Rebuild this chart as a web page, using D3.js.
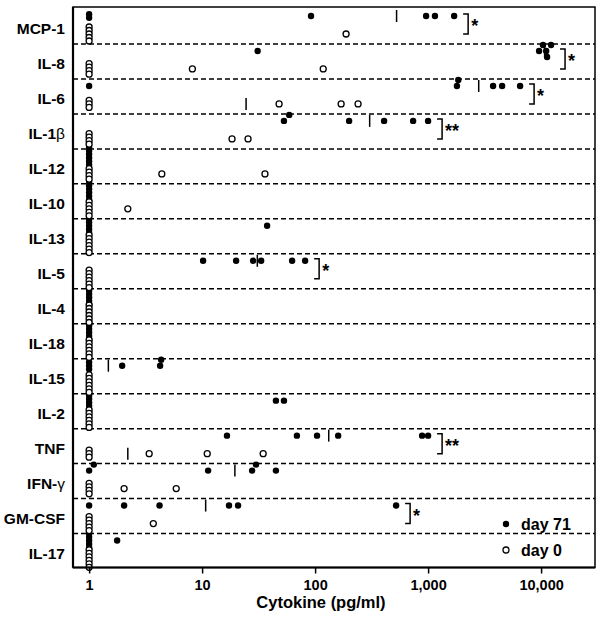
<!DOCTYPE html>
<html>
<head>
<meta charset="utf-8">
<script src="https://cdn.jsdelivr.net/npm/d3@7"></script>
<style>
  body { margin: 0; background: #fff; }
  svg { display: block; font-family: Arial, "Liberation Sans", sans-serif; }
</style>
</head>
<body>
<svg id="chart" width="604" height="619"></svg>
<script>
// values, pg/ml (1 = below detection limit)
const cytokines = ["MCP-1", "IL-8", "IL-6", "IL-1β", "IL-12", "IL-10", "IL-13", "IL-5",
  "IL-4", "IL-18", "IL-15", "IL-2", "TNF", "IFN-γ", "GM-CSF", "IL-17"];

const day71 = [
  [1, 1, 92, 960, 1150, 1700],
  [31, 9600, 10400, 11100, 11300, 12250],
  [1, 1800, 1850, 3760, 4520, 6520],
  [53, 59, 200, 408, 737, 1000],
  [1, 1, 1, 1, 1, 1],
  [1, 1, 1, 1, 1, 1],
  [1, 1, 1, 1, 1, 37.6],
  [10.2, 20, 28.3, 33.3, 62.6, 81.6],
  [1, 1, 1, 1, 1, 1],
  [1, 1, 1, 1, 1, 1],
  [1, 1, 1, 1.96, 4.25, 4.34],
  [1, 1, 1, 1, 45, 53],
  [16.6, 69, 104, 160, 885, 1000],
  [1, 1.1, 11.3, 27.7, 30, 45],
  [1, 2.04, 4.2, 17.3, 20.8, 521],
  [1, 1, 1, 1, 1, 1.77]
];

const day0 = [
  [1, 1, 1, 1, 1, 188],
  [1, 1, 1, 1, 8.2, 118],
  [1, 1, 1, 48, 170, 240],
  [1, 1, 1, 1, 18.4, 25.5],
  [1, 1, 1, 1, 4.4, 36],
  [1, 1, 1, 1, 1, 2.2],
  [1, 1, 1, 1, 1, 1],
  [1, 1, 1, 1, 1, 1],
  [1, 1, 1, 1, 1, 1],
  [1, 1, 1, 1, 1, 1],
  [1, 1, 1, 1, 1, 1],
  [1, 1, 1, 1, 1, 1],
  [1, 1, 1, 3.4, 11.1, 34.7],
  [1, 1, 1, 1, 2.04, 5.9],
  [1, 1, 1, 1, 1, 3.7],
  [1, 1, 1, 1, 1, 1]
];

const significance = [
  {name: "MCP-1", mark: "*"},
  {name: "IL-8", mark: "*"},
  {name: "IL-6", mark: "*"},
  {name: "IL-1β", mark: "**"},
  {name: "IL-5", mark: "*"},
  {name: "TNF", mark: "**"},
  {name: "GM-CSF", mark: "*"}
];

const xTicks = [1, 10, 100, 1000, 10000];
const legendItems = ["day 71", "day 0"];

const svg = d3.select("#chart");
const plotLeft = 73, plotRight = 595, plotTop = 7, plotBottom = 567.5;

const x = d3.scaleLog().domain([0.72, 30000]).range([plotLeft, plotRight]);
const y = d3.scaleBand().domain(cytokines).range([9, 568.5]);

// dashed separators between cytokines
svg.append("g")
    .attr("stroke", "#000")
    .attr("stroke-width", 1.5)
    .attr("stroke-dasharray", "5 3")
  .selectAll("line")
  .data(cytokines.slice(1))
  .join("line")
    .attr("x1", plotLeft)
    .attr("x2", plotRight)
    .attr("y1", d => y(d))
    .attr("y2", d => y(d));

// place points of one group: stack the detection-limit values, dodge the rest
const placePoints = (values, baseY) => {
  const ones = values.filter(v => v <= 1);
  const placed = ones.map((v, i) => ({v, px: x(v), py: baseY + (i - (ones.length - 1) / 2) * 3.5}));
  const offsets = [0, -6, 6, -12, 12];
  values.filter(v => v > 1).sort(d3.ascending).forEach(v => {
    const px = x(v);
    let py = baseY;
    for (const o of offsets) {
      const cand = baseY + o;
      if (placed.every(p => Math.hypot(p.px - px, p.py - cand) >= 5.6)) { py = cand; break; }
    }
    placed.push({v, px, py});
  });
  return placed;
};

const rows = cytokines.map((name, i) => {
  const y0 = y(name);
  return {
    name,
    y0,
    filled: placePoints(day71[i], y0 + 7),
    open: placePoints(day0[i], y0 + 25),
    medFilled: d3.median(day71[i]),
    medOpen: d3.median(day0[i]),
    max: d3.max(day71[i].concat(day0[i]))
  };
});

const dots = svg.append("g");
dots.selectAll(".filled")
  .data(rows.flatMap(r => r.filled))
  .join("circle")
    .attr("class", "filled")
    .attr("cx", d => d.px)
    .attr("cy", d => d.py)
    .attr("r", 3.2)
    .attr("fill", "#000");

dots.selectAll(".open")
  .data(rows.flatMap(r => r.open))
  .join("circle")
    .attr("class", "open")
    .attr("cx", d => d.px)
    .attr("cy", d => d.py)
    .attr("r", 3)
    .attr("fill", "#fff")
    .attr("stroke", "#000")
    .attr("stroke-width", 1.3);

// median ticks
const medians = rows.flatMap(r => [
  {v: r.medFilled, cy: r.y0 + 7},
  {v: r.medOpen, cy: r.y0 + 25}
]).filter(d => d.v > 1.05);

svg.append("g")
    .attr("stroke", "#000")
    .attr("stroke-width", 1.5)
  .selectAll("line")
  .data(medians)
  .join("line")
    .attr("x1", d => x(d.v))
    .attr("x2", d => x(d.v))
    .attr("y1", d => d.cy - 6)
    .attr("y2", d => d.cy + 6);

// significance brackets
const sigRows = significance.map(s => {
  const r = rows.find(r => r.name === s.name);
  return {mark: s.mark, bx: x(r.max) + 14, y0: r.y0};
});

const brackets = svg.append("g");
brackets.selectAll("path")
  .data(sigRows)
  .join("path")
    .attr("fill", "none")
    .attr("stroke", "#000")
    .attr("stroke-width", 1.5)
    .attr("d", d => `M${d.bx - 5},${d.y0 + 5}H${d.bx}V${d.y0 + 25}H${d.bx - 5}`);

brackets.selectAll("text")
  .data(sigRows)
  .join("text")
    .attr("x", d => d.bx + 3)
    .attr("y", d => d.y0 + 23)
    .attr("font-size", 18)
    .attr("font-weight", "bold")
    .text(d => d.mark);

// cytokine labels
const labels = svg.append("g")
    .attr("text-anchor", "end")
    .attr("font-size", 15.5)
    .attr("font-weight", "bold")
  .selectAll("text")
  .data(cytokines)
  .join("text")
    .attr("x", 65)
    .attr("y", d => y(d) + 25);

labels.each(function(d) {
  const m = d.match(/^(.*?)([α-ω])$/);
  const t = d3.select(this);
  if (m) {
    t.append("tspan").text(m[1]);
    t.append("tspan").attr("font-weight", "normal").text(m[2]);
  } else {
    t.text(d);
  }
});

// x axis
const xAxis = svg.append("g")
    .attr("transform", `translate(0,${plotBottom})`)
    .call(d3.axisBottom(x)
      .tickValues(xTicks)
      .tickFormat(d3.format(","))
      .tickSize(6)
      .tickSizeOuter(0));

xAxis.select(".domain").remove();
xAxis.selectAll(".tick line").attr("stroke-width", 1.5);
xAxis.selectAll(".tick text")
    .attr("font-size", 14.5)
    .attr("font-weight", "bold")
    .attr("font-family", "Arial, 'Liberation Sans', sans-serif")
    .attr("dy", "0.9em");

svg.append("text")
    .attr("x", 321)
    .attr("y", 608)
    .attr("text-anchor", "middle")
    .attr("font-size", 16.5)
    .attr("font-weight", "bold")
    .text("Cytokine (pg/ml)");

// frame
svg.append("rect")
    .attr("x", plotLeft)
    .attr("y", plotTop)
    .attr("width", plotRight - plotLeft)
    .attr("height", plotBottom - plotTop)
    .attr("fill", "none")
    .attr("stroke", "#000")
    .attr("stroke-width", 1.5);

svg.append("line")
    .attr("x1", plotLeft).attr("x2", plotLeft)
    .attr("y1", plotTop).attr("y2", plotBottom)
    .attr("stroke", "#000")
    .attr("stroke-width", 2.2);

svg.append("line")
    .attr("x1", plotLeft).attr("x2", plotRight)
    .attr("y1", plotBottom).attr("y2", plotBottom)
    .attr("stroke", "#000")
    .attr("stroke-width", 2.2);

// legend
const legend = svg.append("g")
  .selectAll("g")
  .data(legendItems)
  .join("g")
    .attr("transform", (d, i) => `translate(506,${524 + i * 26})`);

legend.append("circle")
    .attr("r", d => d === "day 71" ? 3.2 : 3)
    .attr("fill", d => d === "day 71" ? "#000" : "#fff")
    .attr("stroke", d => d === "day 71" ? "none" : "#000")
    .attr("stroke-width", 1.3);

legend.append("text")
    .attr("x", 15)
    .attr("y", 6)
    .attr("font-size", 16)
    .attr("font-weight", "bold")
    .text(d => d);
</script>
</body>
</html>
